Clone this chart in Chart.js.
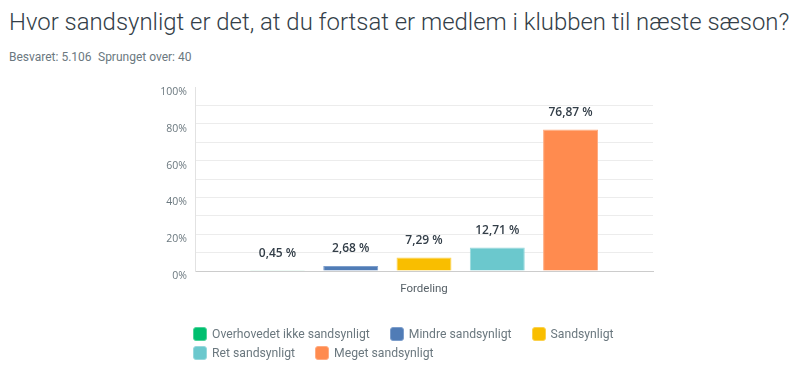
<!DOCTYPE html>
<html>
<head>
<meta charset="utf-8">
<script src="https://cdn.jsdelivr.net/npm/chart.js@4.4.1/dist/chart.umd.min.js"></script>
<style>
  body { margin: 0; width: 800px; height: 370px; position: relative; background: #fff; overflow: hidden; font-family: Roboto, sans-serif; }
  #title { position: absolute; left: 9px; top: 7px; font-weight: 300; font-size: 25px; line-height: 30px; color: #333e48; white-space: nowrap; }
  .sub { position: absolute; top: 49px; font-size: 12px; line-height: 16px; color: #6b787f; white-space: nowrap; }
  #chart { position: absolute; left: 0; top: 0; }
  #legend { position: absolute; left: 193px; top: 324px; width: 460px; font-size: 12.2px; color: #6b787f; }
  .item { display: inline-flex; align-items: center; height: 19px; margin-right: 20px; white-space: nowrap; }
  .box { width: 12px; height: 12px; border-radius: 3px; border: 1px solid; margin-right: 5px; }
</style>
</head>
<body>
<div id="title">Hvor sandsynligt er det, at du fortsat er medlem i klubben til næste sæson?</div>
<div class="sub" style="left:9px">Besvaret: 5.106</div>
<div class="sub" style="left:98px">Sprunget over: 40</div>
<canvas id="chart" width="800" height="370"></canvas>
<div id="legend"></div>
<script>
// chart data
var categories = ['Fordeling'];
var seriesNames = ['Overhovedet ikke sandsynligt', 'Mindre sandsynligt', 'Sandsynligt', 'Ret sandsynligt', 'Meget sandsynligt'];
var seriesValues = [0.45, 2.68, 7.29, 12.71, 76.87];
var seriesColors = ['#00bf6f', '#507cb6', '#f9be00', '#6bc8cd', '#ff8b4f'];
var borderColors = ['#4dd39a', '#7d9ecb', '#fbd14d', '#97d8dc', '#ffab80'];
var yTickLabels = ['0%', '20%', '40%', '60%', '80%', '100%'];

// fit title to the width used in the original
var mctx = document.createElement('canvas').getContext('2d');
mctx.font = '300 24px Roboto';
var tw = mctx.measureText(document.getElementById('title').textContent).width;
document.getElementById('title').style.fontSize = (24 * 781 / tw) + 'px';

function fmt(v) {
  return v.toFixed(2).replace('.', ',') + ' %';
}

// value labels above the bars
var barLabels = {
  id: 'barLabels',
  afterDatasetsDraw: function(chart) {
    var ctx = chart.ctx;
    ctx.save();
    ctx.font = '600 12px "Open Sans"';
    ctx.fillStyle = '#333e48';
    ctx.textAlign = 'center';
    ctx.textBaseline = 'middle';
    chart.data.datasets.forEach(function(ds, i) {
      chart.getDatasetMeta(i).data.forEach(function(bar, j) {
        ctx.fillText(fmt(ds.data[j]), bar.x, bar.y - 17);
      });
    });
    ctx.restore();
  }
};

var datasets = seriesNames.map(function(name, i) {
  return {
    label: name,
    data: [seriesValues[i]],
    backgroundColor: seriesColors[i],
    borderColor: borderColors[i],
    borderWidth: 1,
    barPercentage: 0.75,
    categoryPercentage: 0.8
  };
});

var chart = new Chart(document.getElementById('chart').getContext('2d'), {
  type: 'bar',
  data: { labels: categories, datasets: datasets },
  options: {
    responsive: false,
    animation: false,
    layout: { padding: { left: 0, top: 87, right: 147, bottom: 0 } },
    plugins: { legend: { display: false }, tooltip: { enabled: false } },
    scales: {
      x: {
        grid: { display: false, drawTicks: false },
        border: { color: '#cccccc', width: 1 },
        ticks: { color: '#555f66', font: { family: 'Roboto', size: 11.5 }, padding: 11 },
        afterFit: function(s) { s.height = 99; }
      },
      y: {
        min: 0,
        max: 100,
        ticks: {
          stepSize: 10,
          color: '#6b787f',
          font: { family: '"Open Sans"', size: 10.5 },
          padding: 8,
          labelOffset: 5,
          autoSkip: false,
          callback: function(v) {
            return v % 20 === 0 ? yTickLabels[v / 20] : '';
          }
        },
        grid: {
          drawTicks: false,
          color: function(c) { return c.tick && c.tick.value === 100 ? 'rgba(0,0,0,0)' : '#ececec'; }
        },
        border: { color: '#e2e2e2' },
        afterFit: function(s) { s.width = 195; }
      }
    }
  },
  plugins: [barLabels]
});

// legend built from the chart datasets
var legend = document.getElementById('legend');
chart.data.datasets.forEach(function(ds) {
  var item = document.createElement('span');
  item.className = 'item';
  var box = document.createElement('span');
  box.className = 'box';
  box.style.background = ds.backgroundColor;
  box.style.borderColor = ds.borderColor;
  item.appendChild(box);
  item.appendChild(document.createTextNode(ds.label));
  legend.appendChild(item);
});
</script>
</body>
</html>
